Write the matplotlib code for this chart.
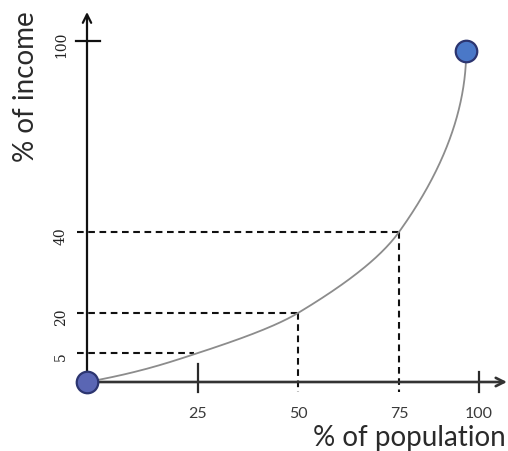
import numpy as np
import matplotlib
matplotlib.use("Agg")
import matplotlib.pyplot as plt

# ---- data ----
pop_ticks = [25, 50, 75, 100]
pop_labels = ["25", "50", "75", "100"]
inc_ticks = [5, 20, 40, 100]
inc_labels = ["5", "20", "40", "100"]
# Lorenz curve points (% population, % income)
curve_pop = [0, 25, 50, 75, 96]
curve_inc = [0, 5, 20, 40, 97]
# guide points with dashed lines
guide_pop = [25, 50, 75]
guide_inc = [5, 20, 40]
# end markers
marker_pop = [0, 96]
marker_inc = [0, 97]

# ---- schematic (non-linear) axis layout: value -> position ----
x_anchor_v = [0, 25, 50, 75, 100]
x_anchor_p = [0, 111, 211, 312, 392]
y_anchor_v = [0, 5, 20, 40, 100]
y_anchor_p = [0, 29, 69, 150, 341]


def fx(v):
    return np.interp(v, x_anchor_v, x_anchor_p)


def fy(v):
    return np.interp(v, y_anchor_v, y_anchor_p)


def hermite(yk, xk, ys, m_start, m_end):
    """Smooth x(y) through knots; Catmull-Rom style inner slopes."""
    yk = np.asarray(yk, float); xk = np.asarray(xk, float)
    n = len(yk)
    m = np.zeros(n)
    m[0] = m_start
    m[-1] = m_end
    for k in range(1, n - 1):
        m[k] = (xk[k + 1] - xk[k - 1]) / (yk[k + 1] - yk[k - 1])
    m[-2] *= 1.12
    out = np.empty_like(ys)
    for i, y in enumerate(ys):
        k = int(np.clip(np.searchsorted(yk, y, side="right") - 1, 0, n - 2))
        h = yk[k + 1] - yk[k]
        t = (y - yk[k]) / h
        h00 = 2 * t**3 - 3 * t**2 + 1
        h10 = t**3 - 2 * t**2 + t
        h01 = -2 * t**3 + 3 * t**2
        h11 = t**3 - t**2
        out[i] = (h00 * xk[k] + h10 * h * m[k] + h01 * xk[k + 1]
                  + h11 * h * m[k + 1])
    return out


fig = plt.figure(figsize=(5.08, 4.52), dpi=100)
ax = fig.add_axes([0, 0, 1, 1])
ax.set_xlim(-87, 421)
ax.set_ylim(-69, 383)
ax.axis("off")

FONT = "Lato"
axis_col = "#2a2a2a"

# axes with arrows
ax.annotate("", xy=(420, 0), xytext=(0, 0),
            arrowprops=dict(arrowstyle="->,head_length=0.6,head_width=0.3",
                            color="#333333", lw=1.9, shrinkA=0, shrinkB=0))
ax.annotate("", xy=(0, 370), xytext=(0, 0),
            arrowprops=dict(arrowstyle="->,head_length=0.6,head_width=0.3",
                            color="#111111", lw=1.6, shrinkA=0, shrinkB=0))

# solid ticks at x=25, x=100 and y=100
ax.plot([fx(25), fx(25)], [-10, 18], color=axis_col, lw=1.6)
ax.plot([fx(100), fx(100)], [-10, 10], color=axis_col, lw=1.6)
ax.plot([-11, 13], [fy(100), fy(100)], color="#111111", lw=1.6)

# dashed guides
for i, (p, q) in enumerate(zip(guide_pop, guide_inc)):
    ax.plot([-10, fx(p) - (4 if i == 0 else 0)], [fy(q), fy(q)],
            color="#111111", lw=1.5, dashes=(3.2, 2.2))
    if i > 0:
        ax.plot([fx(p), fx(p)], [fy(q), -10], color="#111111", lw=1.5,
                dashes=(3.2, 2.2))

# Lorenz curve (smooth, x as monotone function of y in layout space)
cy = fy(np.array(curve_inc, float))
cx = fx(np.array(curve_pop, float))
ys = np.linspace(cy[0], cy[-1], 400)
xs = hermite(cy, cx, ys, m_start=5.5, m_end=0.0)
ax.plot(xs, ys, color="#8c8c8c", lw=1.3, zorder=3)

# end markers
mcols = ["#5a66b4", "#4a78c8"]
for p, q, c in zip(marker_pop, marker_inc, mcols):
    ax.plot(fx(p), fy(q), "o", ms=15.5, mfc=c, mec="#2c3570", mew=1.6,
            zorder=5)

# tick labels
for p, lab in zip(pop_ticks, pop_labels):
    ax.text(fx(p), -31, lab, ha="center", va="center", fontsize=11.5,
            family=FONT, color="#3a3a3a")
for q, lab in zip(inc_ticks, inc_labels):
    ax.text(-19, fy(q) - 3, lab, ha="right", va="center", rotation=90,
            fontsize=10, family="DejaVu Serif", color="#222222")

# axis titles
ax.text(-61, 296, "% of income", rotation=90, ha="center", va="center",
        fontsize=20, family=FONT, color="#2a2a2a")
ax.text(322, -55, "% of population", ha="center", va="center",
        fontsize=20, family=FONT, color="#2a2a2a")

fig.savefig("out.png", dpi=100)
